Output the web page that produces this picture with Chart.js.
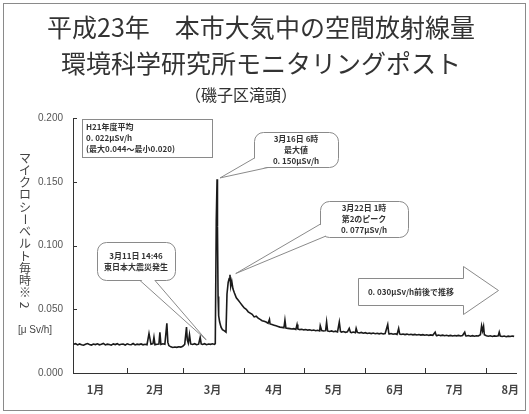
<!DOCTYPE html>
<html>
<head>
<meta charset="utf-8">
<script src="https://cdn.jsdelivr.net/npm/chart.js@4.4.1/dist/chart.umd.min.js"></script>
<style>
html, body { margin: 0; padding: 0; background: #fff; }
#wrap { width: 529px; height: 414px; position: relative; }
</style>
</head>
<body>
<div id="wrap"><canvas id="chart_doseRate"></canvas></div>
<script>
// month labels sit mid-month, tick marks at month starts (day of year, Jan 1 = 0)
var monthLabels = ['1月', '2月', '3月', '4月', '5月', '6月', '7月', '8月'];
var monthMidDays = [15, 45, 74, 105, 135, 166, 196, 224];
var monthStartDays = [31, 59, 90, 120, 151, 181, 212];
var yTickValues = [0, 0.05, 0.1, 0.15, 0.2];

var sampleDays = [
  4, 5, 6, 7, 8, 9, 10, 11, 12, 13, 14, 15, 16, 17, 18, 19, 20, 21, 22, 23,
  24, 25, 26, 27, 28, 29, 30, 31, 32, 33, 34, 35, 36, 37, 38, 39, 40, 41,
  42, 43, 44, 44.5, 45, 46, 47, 47.5, 48, 49, 50, 51, 51.5, 52, 53, 54, 55, 56, 57, 58,
  59, 60, 60.9, 61.3, 61.8, 62.4, 63, 64, 65, 66, 67, 67.8, 68.3, 69, 70, 71, 72, 73, 74, 75, 75.4,
  75.9, 76.3, 76.5, 76.8, 77.1, 77.6, 78.3, 79, 80, 80.8, 81.3, 81.9, 82.4, 82.8, 83.2,
  83.7, 84.3, 85, 86, 87, 88, 89, 90, 91, 92, 93, 94, 95, 96, 97, 98, 99, 100, 101, 102,
  102.7, 103, 104, 105, 106, 107, 108, 109, 110, 110.5, 111, 112,
  113, 114, 115, 116, 116.6, 117, 118, 119, 120, 121, 122, 123, 124, 125, 126,
  127, 128, 128.3, 129, 130, 131, 131.5, 132, 133, 134, 135, 136, 137, 137.9, 138.5,
  139, 140, 141, 142, 142.9, 143.5, 144, 145, 146, 146.4, 147, 148, 149, 150, 151,
  152, 153, 154, 155, 156, 157, 158, 159, 160, 161, 162.3, 162.8, 163, 164, 165,
  166, 167, 167.8, 168.3, 169, 170, 171, 172, 173, 174, 175, 176, 177, 178, 179,
  180, 181, 182, 183, 184, 185, 186.2, 186.7, 187, 188, 189, 190, 191, 192, 193,
  194, 195, 196, 197, 198, 199, 200, 201.1, 201.6, 202, 203, 204, 205, 206, 207,
  208, 209, 209.6, 210.1, 210.6, 211, 212, 213, 214, 215, 216, 217, 218, 218.5, 219,
  220, 221, 222, 223, 224, 225, 226
];

var doseRate = [
  0.0225, 0.0230, 0.0220, 0.0228, 0.0222, 0.0218, 0.0226, 0.0231, 0.0224, 0.0219,
  0.0227, 0.0223, 0.0229, 0.0221, 0.0225, 0.0232, 0.0220, 0.0226, 0.0224, 0.0218,
  0.0228, 0.0223, 0.0230, 0.0221, 0.0225, 0.0227, 0.0219, 0.0229, 0.0224, 0.0222,
  0.0231, 0.0220, 0.0226, 0.0223, 0.0228, 0.0221, 0.0225, 0.0222,
  0.031, 0.0225, 0.0230, 0.028, 0.0222, 0.0226, 0.0228, 0.032, 0.0224, 0.0229,
  0.0226, 0.039, 0.0240, 0.0215, 0.0205, 0.0200, 0.0204, 0.0201, 0.0206, 0.0203,
  0.0210, 0.0225, 0.036, 0.0260, 0.0235, 0.030, 0.0228, 0.0224, 0.0230, 0.0222,
  0.0226, 0.028, 0.0228, 0.0224, 0.0230, 0.0222, 0.0227, 0.0225, 0.0229, 0.0224, 0.0230,
  0.120, 0.152, 0.115, 0.060, 0.045, 0.040, 0.036, 0.034, 0.033, 0.032,
  0.062, 0.071, 0.074, 0.077, 0.068, 0.072, 0.066, 0.063, 0.059, 0.057,
  0.055, 0.053, 0.051, 0.050, 0.048, 0.047, 0.046, 0.044, 0.0445, 0.043,
  0.042, 0.041, 0.0405, 0.040, 0.039, 0.042, 0.0385, 0.038, 0.0375, 0.037,
  0.0365, 0.036, 0.0358, 0.0355, 0.0415, 0.0352, 0.035,
  0.0348, 0.0345, 0.0348, 0.0342, 0.038, 0.0345, 0.0340, 0.0343, 0.0338, 0.0341,
  0.0336, 0.0339, 0.0334, 0.0337, 0.0332, 0.0335, 0.0330, 0.037, 0.0333, 0.0329,
  0.0332, 0.0400, 0.0330, 0.0326, 0.0330, 0.0324, 0.0328, 0.0322, 0.0400, 0.0325,
  0.0321, 0.0325, 0.0319, 0.0323, 0.0350, 0.0320, 0.0317, 0.0321, 0.0316, 0.0350,
  0.0318, 0.0314, 0.0318, 0.0312, 0.0316, 0.0310, 0.0314, 0.0309, 0.0313, 0.0308,
  0.0312, 0.0307, 0.0311, 0.0306, 0.0310, 0.0380, 0.0315, 0.0306, 0.0310, 0.0304,
  0.0308, 0.0303, 0.0350, 0.0306, 0.0302, 0.0306, 0.0301, 0.0305, 0.0300, 0.0304,
  0.0299, 0.0303, 0.0298, 0.0302, 0.0297, 0.0301, 0.0296, 0.0300, 0.0295, 0.0299,
  0.0296, 0.0320, 0.0296, 0.0294, 0.0298, 0.0293, 0.0297, 0.0292, 0.0296, 0.0291,
  0.0295, 0.0290, 0.0294, 0.0291, 0.0295, 0.0290, 0.0294, 0.0320, 0.0292, 0.0290,
  0.0294, 0.0289, 0.0293, 0.0288, 0.0292, 0.0290, 0.0300, 0.0370, 0.0330, 0.0365,
  0.0300, 0.0292, 0.0288, 0.0292, 0.0287, 0.0291, 0.0288, 0.0292, 0.0320, 0.0290,
  0.0286, 0.0290, 0.0285, 0.0289, 0.0286, 0.0290, 0.0287
];

var jpFont = "'Noto Sans CJK JP', 'Noto Sans', sans-serif";
var numFont = "'Liberation Sans', Arial, sans-serif";

function line(ctx, x1, y1, x2, y2) {
  ctx.beginPath();
  ctx.moveTo(x1, y1);
  ctx.lineTo(x2, y2);
  ctx.stroke();
}

// rounded box with a pointer whose tip is anchored at a data point
function callout(ctx, chart, c) {
  var tx = chart.scales.x.getPixelForValue(c.tip[0]);
  var ty = chart.scales.y.getPixelForValue(c.tip[1]);
  ctx.beginPath();
  ctx.roundRect(c.x + 0.5, c.y + 0.5, c.w, c.h, 9);
  ctx.fillStyle = '#fff';
  ctx.fill();
  ctx.stroke();
  var cx = c.x + c.w / 2, cy = c.y + c.h / 2;
  function inward(p) {
    var dx = cx - p[0], dy = cy - p[1], l = Math.hypot(dx, dy);
    return [p[0] + dx / l * 2, p[1] + dy / l * 2];
  }
  var b1 = inward(c.base[0]), b2 = inward(c.base[1]);
  ctx.beginPath();
  ctx.moveTo(b1[0], b1[1]);
  ctx.lineTo(tx, ty);
  ctx.lineTo(b2[0], b2[1]);
  ctx.closePath();
  ctx.fill();
  line(ctx, c.base[0][0], c.base[0][1], tx, ty);
  line(ctx, c.base[1][0], c.base[1][1], tx, ty);
  ctx.fillStyle = '#333';
  ctx.font = 'bold 8px ' + jpFont;
  ctx.textAlign = 'center';
  ctx.textBaseline = 'middle';
  var y0 = cy - (c.lines.length - 1) * 5.5;
  c.lines.forEach(function (t, i) { ctx.fillText(t, cx, y0 + i * 11); });
}

var decorations = {
  id: 'decorations',
  afterDraw: function (chart) {
    var ctx = chart.ctx, a = chart.chartArea;
    var xs = chart.scales.x, ys = chart.scales.y;
    ctx.save();

    // outer frame
    ctx.strokeStyle = '#8a8a8a';
    ctx.lineWidth = 1;
    ctx.strokeRect(3.5, 3.5, 522, 407);

    // inward tick marks
    ctx.strokeStyle = '#333';
    monthStartDays.forEach(function (d) {
      var px = Math.round(xs.getPixelForValue(d)) + 0.5;
      line(ctx, px, a.bottom, px, a.bottom - 5);
    });
    yTickValues.forEach(function (v) {
      if (v === 0) return;
      var py = Math.round(ys.getPixelForValue(v)) + 0.5;
      line(ctx, a.left, py, a.left + 4, py);
    });

    // vertical axis title, written top to bottom
    ctx.fillStyle = '#444';
    ctx.font = '12px ' + jpFont;
    ctx.textAlign = 'center';
    ctx.textBaseline = 'middle';
    Array.from('マイクロシーベルト毎時※2').forEach(function (ch, i) {
      var y = 158 + i * 12.25;
      if (ch === 'ー' || ch === '2') {
        ctx.save();
        ctx.translate(25, y);
        ctx.rotate(Math.PI / 2);
        ctx.fillText(ch, 0, 0);
        ctx.restore();
      } else {
        ctx.fillText(ch, 25, y);
      }
    });
    ctx.font = '10px ' + numFont;
    ctx.fillText('[μ Sv/h]', 35, 330);

    // H21 average box
    ctx.strokeStyle = '#8a8a8a';
    ctx.fillStyle = '#fff';
    ctx.fillRect(82, 119, 130, 38);
    ctx.strokeRect(82.5, 119.5, 130, 38);
    ctx.fillStyle = '#333';
    ctx.font = 'bold 8px ' + jpFont;
    ctx.textAlign = 'left';
    ['H21年度平均', '0. 022μSv/h', '(最大0.044～最小0.020)'].forEach(function (t, i) {
      ctx.fillText(t, 86, 127 + i * 11);
    });

    callout(ctx, chart, {
      x: 97, y: 242, w: 78, h: 38, tip: [70.8, 0.026],
      base: [[140, 280.5], [155, 280.5]],
      lines: ['3月11日 14:46', '東日本大震災発生']
    });
    callout(ctx, chart, {
      x: 254, y: 132, w: 84, h: 35, tip: [77.8, 0.153],
      base: [[254.5, 158], [268, 167.5]],
      lines: ['3月16日 6時', '最大値', '0. 150μSv/h']
    });
    callout(ctx, chart, {
      x: 320, y: 201, w: 88, h: 36, tip: [85.7, 0.078],
      base: [[320.5, 224], [326, 236]],
      lines: ['3月22日 1時', '第2のピーク', '0. 077μSv/h']
    });

    // trend arrow
    ctx.strokeStyle = '#8a8a8a';
    ctx.fillStyle = '#fff';
    ctx.beginPath();
    ctx.moveTo(358.5, 278.5);
    ctx.lineTo(463.5, 278.5);
    ctx.lineTo(463.5, 266.5);
    ctx.lineTo(498.5, 290.5);
    ctx.lineTo(463.5, 314.5);
    ctx.lineTo(463.5, 305.5);
    ctx.lineTo(358.5, 305.5);
    ctx.closePath();
    ctx.fill();
    ctx.stroke();
    ctx.fillStyle = '#333';
    ctx.font = 'bold 8px ' + jpFont;
    ctx.textAlign = 'center';
    ctx.fillText('0. 030μSv/h前後で推移', 411, 292);

    ctx.restore();
  }
};

var chart_doseRate = new Chart(document.getElementById('chart_doseRate'), {
  type: 'line',
  data: {
    datasets: [{
      data: sampleDays.map(function (d, i) { return { x: d, y: doseRate[i] }; }),
      borderColor: '#1a1a1a',
      borderWidth: 1.6,
      pointRadius: 0,
      tension: 0,
      fill: false
    }]
  },
  options: {
    animation: false,
    responsive: true,
    maintainAspectRatio: false,
    layout: { padding: { left: 0, right: 7, top: 0, bottom: 0 } },
    plugins: {
      legend: { display: false },
      tooltip: { enabled: false },
      title: {
        display: true,
        text: ['平成23年　本市大気中の空間放射線量', '環境科学研究所モニタリングポスト'],
        color: '#333',
        font: { family: jpFont, size: 25, weight: 'normal', lineHeight: 1.44 },
        padding: { top: 9, bottom: 4 }
      },
      subtitle: {
        display: true,
        text: '（磯子区滝頭）　　　',
        color: '#333',
        font: { family: jpFont, size: 16, weight: 'normal', lineHeight: 1.25 },
        padding: { top: 0, bottom: 13 }
      }
    },
    scales: {
      x: {
        type: 'linear',
        min: 3.7,
        max: 227,
        grid: { display: false, drawTicks: false },
        border: { color: '#333', width: 1 },
        afterBuildTicks: function (s) { s.ticks = monthMidDays.map(function (v) { return { value: v }; }); },
        afterFit: function (s) { s.height = 41; },
        ticks: {
          autoSkip: false,
          maxRotation: 0,
          padding: 10,
          color: '#444',
          font: { family: jpFont, size: 11, weight: 'bold' },
          callback: function (v, i) { return monthLabels[i]; }
        }
      },
      y: {
        min: 0,
        max: 0.2,
        grid: { display: false, drawTicks: false },
        border: { color: '#333', width: 1 },
        afterBuildTicks: function (s) { s.ticks = yTickValues.map(function (v) { return { value: v }; }); },
        afterFit: function (s) { s.width = 73; },
        ticks: {
          padding: 10,
          color: '#555',
          font: { family: numFont, size: 10 },
          callback: function (v) { return v.toFixed(3); }
        }
      }
    }
  },
  plugins: [decorations]
});
</script>
</body>
</html>
